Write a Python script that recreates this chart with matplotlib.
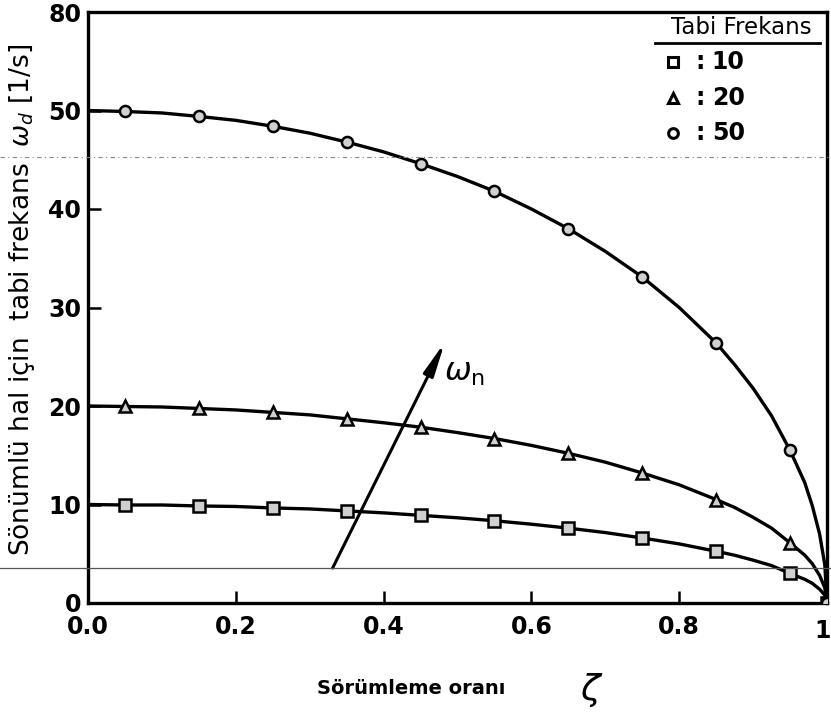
import numpy as np
import matplotlib.pyplot as plt
from matplotlib.lines import Line2D
from matplotlib.transforms import ScaledTranslation

# damping ratio where the markers sit
zeta = [0.05, 0.15, 0.25, 0.35, 0.45, 0.55, 0.65, 0.75, 0.85, 0.95, 1.0]

# damped frequency for each natural frequency
wd_10 = [9.95, 9.85, 9.65, 9.35, 8.9, 8.35, 7.6, 6.6, 5.25, 3.0, 0.0]
wd_20 = [19.95, 19.75, 19.35, 18.7, 17.85, 16.7, 15.2, 13.2, 10.5, 6.1, 0.0]
wd_50 = [49.9, 49.4, 48.4, 46.8, 44.6, 41.8, 38.0, 33.1, 26.4, 15.5, 0.0]

# points along the drawn curves (they start at zeta=0 and fall steeply near 1)
curve_zeta = [0.0, 0.05, 0.1, 0.15, 0.2, 0.25, 0.3, 0.35, 0.4, 0.45, 0.5, 0.55,
              0.6, 0.65, 0.7, 0.75, 0.8, 0.85, 0.875, 0.9, 0.925, 0.95,
              0.97, 0.98, 0.99, 0.997, 1.0]
curve_10 = [10.0, 9.95, 9.95, 9.85, 9.8, 9.65, 9.55, 9.35, 9.15, 8.9, 8.65, 8.35,
            8.0, 7.6, 7.15, 6.6, 6.0, 5.25, 4.85, 4.35, 3.8, 3.0,
            2.4, 2.0, 1.4, 0.8, 0.0]
curve_20 = [20.0, 19.95, 19.9, 19.75, 19.6, 19.35, 19.1, 18.7, 18.3, 17.85, 17.3, 16.7,
            16.0, 15.2, 14.3, 13.2, 12.0, 10.5, 9.7, 8.7, 7.6, 6.1,
            4.85, 4.0, 2.8, 1.55, 0.0]
curve_50 = [50.0, 49.9, 49.75, 49.4, 49.0, 48.4, 47.7, 46.8, 45.8, 44.6, 43.3, 41.8,
            40.0, 38.0, 35.7, 33.1, 30.0, 26.4, 24.2, 21.8, 19.0, 15.5,
            12.2, 9.9, 7.0, 3.9, 0.0]

x_ticks = [0.0, 0.2, 0.4, 0.6, 0.8, 1.0]
x_labels = ['0.0', '0.2', '0.4', '0.6', '0.8', '1']
y_ticks = [0, 10, 20, 30, 40, 50, 60]
y_labels = ['0', '10', '20', '30', '40', '50', '80']

legend_markers = ['s', '^', 'o']
legend_values = ['10', '20', '50']

fig = plt.figure(figsize=(8.31, 7.26), dpi=100)
ax = fig.add_axes([88/831, 1 - 603/726, (827-88)/831, (603-12)/726])

lw = 2.4
for cv, wv, m in [(curve_10, wd_10, 's'), (curve_20, wd_20, '^'), (curve_50, wd_50, 'o')]:
    ax.plot(curve_zeta, cv, color='black', lw=lw, solid_capstyle='round', zorder=2)
    ax.plot(zeta, wv, linestyle='none', marker=m, ms=8, mfc='#d0d0d0',
            mec='black', mew=1.8, zorder=3)

# omega_n arrow
ax.annotate('', xy=(0.483, 26.5), xytext=(0.331, 3.55),
            arrowprops=dict(arrowstyle='-|>,head_length=2.0,head_width=0.32',
                            color='black', lw=2.2, shrinkA=0, shrinkB=0))
ax.text(0.482, 23.4, r'$\omega_\mathregular{n}$', fontsize=23, ha='left', va='center')

ax.set_xlim(0, 1)
ax.set_ylim(0, 60)
ax.set_xticks(x_ticks)
ax.set_xticklabels(x_labels)
ax.set_yticks(y_ticks)
ax.set_yticklabels(y_labels)
ax.tick_params(direction='in', length=9, width=1.8, labelsize=17)
ax.tick_params(axis='y', pad=5)
ax.tick_params(axis='x', pad=9)
for lab in ax.get_xticklabels() + ax.get_yticklabels():
    lab.set_fontweight('bold')
last = ax.get_xticklabels()[-1]
last.set_horizontalalignment('right')
last.set_transform(last.get_transform() + ScaledTranslation(4/100, -3/100, fig.dpi_scale_trans))
for s in ax.spines.values():
    s.set_linewidth(2.4)

# legend box drawn by hand
ax.text(0.884, 0.973, 'Tabi Frekans', transform=ax.transAxes, fontsize=16.5,
        ha='center', va='center')
ax.add_line(Line2D([0.767, 0.99], [0.948, 0.948], transform=ax.transAxes,
                   color='black', lw=2))
for i, (m, v) in enumerate(zip(legend_markers, legend_values)):
    yy = 0.915 - i * 0.06
    ax.plot([0.792], [yy], transform=ax.transAxes, marker=m, ms=7, mfc='white',
            mec='black', mew=2.2, linestyle='none')
    ax.text(0.828, yy, ':', transform=ax.transAxes, fontsize=17,
            fontweight='bold', ha='center', va='center')
    ax.text(0.844, yy, v, transform=ax.transAxes, fontsize=17,
            fontweight='bold', ha='left', va='center')

# scan lines across the page
fig.add_artist(Line2D([0, 1], [1 - 568/726, 1 - 568/726], color='#555555', lw=0.9))
fig.add_artist(Line2D([0, 1], [1 - 157/726, 1 - 157/726], color='#888888', lw=0.8,
                      linestyle=(0, (4, 3, 1, 3))))

fig.text(0.026, 1 - 300/726, r'Sönümlü hal için  tabi frekans  $\omega_d$ [1/s]',
         rotation=90, fontsize=19, ha='center', va='center')
fig.text(0.495, 1 - 688/726, 'Sörümleme oranı', fontsize=14, fontweight='bold',
         ha='center', va='center')
fig.text(0.712, 1 - 690/726, r'$\zeta$', fontsize=26, ha='center', va='center')

fig.savefig('out.png', dpi=100)
